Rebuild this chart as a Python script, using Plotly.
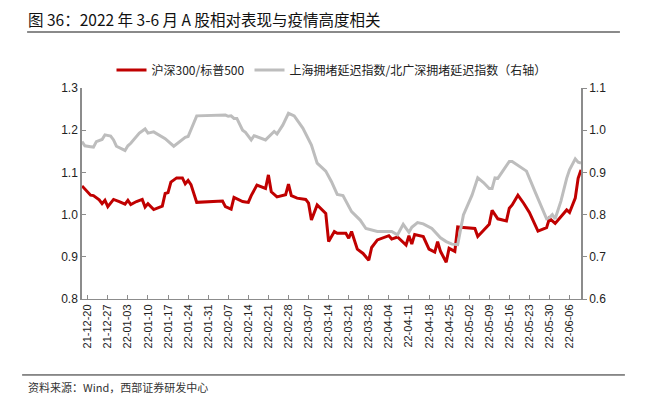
import plotly.graph_objects as go
import pandas as pd

# --- data ---
red_dates = ["2021-12-18","2021-12-20","2021-12-21","2021-12-22","2021-12-24","2021-12-25","2021-12-26","2021-12-27",
             "2021-12-29","2021-12-31","2022-01-02","2022-01-03","2022-01-04","2022-01-06","2022-01-08","2022-01-09",
             "2022-01-10","2022-01-12","2022-01-15","2022-01-16","2022-01-17","2022-01-18","2022-01-20","2022-01-22",
             "2022-01-23","2022-01-24","2022-01-25","2022-01-27","2022-02-05","2022-02-06","2022-02-08","2022-02-09",
             "2022-02-12","2022-02-13","2022-02-14","2022-02-15","2022-02-16","2022-02-17","2022-02-20","2022-02-21",
             "2022-02-22","2022-02-24","2022-02-27","2022-02-28","2022-03-01","2022-03-03","2022-03-06","2022-03-07",
             "2022-03-08","2022-03-10","2022-03-13","2022-03-14","2022-03-16","2022-03-17","2022-03-20","2022-03-21",
             "2022-03-22","2022-03-24","2022-03-26","2022-03-28","2022-03-29","2022-03-31","2022-04-04","2022-04-05",
             "2022-04-07","2022-04-10","2022-04-11","2022-04-12","2022-04-13","2022-04-16","2022-04-18","2022-04-20",
             "2022-04-21","2022-04-22","2022-04-24","2022-04-25","2022-04-27","2022-04-28","2022-04-29","2022-05-04",
             "2022-05-05","2022-05-09","2022-05-10","2022-05-12","2022-05-15","2022-05-16","2022-05-17","2022-05-19",
             "2022-05-21","2022-05-22","2022-05-23","2022-05-26","2022-05-29","2022-05-30","2022-06-01","2022-06-05",
             "2022-06-06","2022-06-08","2022-06-09","2022-06-10"]
red_values = [1.068,1.054,1.046,1.045,1.035,1.026,1.034,1.019,
              1.036,1.031,1.025,1.034,1.024,1.031,1.036,1.018,
              1.026,1.012,1.020,1.050,1.052,1.077,1.087,1.087,
              1.073,1.081,1.071,1.029,1.032,1.019,1.013,1.041,
              1.031,1.030,1.029,1.045,1.056,1.070,1.062,1.094,
              1.054,1.042,1.047,1.072,1.045,1.039,1.036,1.027,
              0.987,1.023,1.003,0.936,0.960,0.956,0.956,0.944,
              0.960,0.918,0.908,0.892,0.922,0.940,0.950,0.942,
              0.947,0.928,0.950,0.930,0.953,0.948,0.918,0.911,
              0.936,0.913,0.887,0.920,0.913,0.971,0.970,0.967,
              0.948,0.977,1.010,0.990,0.985,1.015,1.023,1.046,
              1.027,1.015,1.005,0.961,0.969,0.991,0.979,1.011,
              1.005,1.039,1.086,1.106]

gray_dates = ["2021-12-18","2021-12-19","2021-12-21","2021-12-22","2021-12-23","2021-12-25","2021-12-26","2021-12-28",
              "2021-12-29","2021-12-30","2022-01-02","2022-01-03","2022-01-04","2022-01-06","2022-01-07","2022-01-09",
              "2022-01-10","2022-01-12","2022-01-14","2022-01-16","2022-01-19","2022-01-21","2022-01-23","2022-01-24",
              "2022-01-27","2022-02-06","2022-02-07","2022-02-08","2022-02-09","2022-02-10","2022-02-12","2022-02-13",
              "2022-02-15","2022-02-16","2022-02-20","2022-02-23","2022-02-24","2022-02-26","2022-02-28","2022-03-02",
              "2022-03-05","2022-03-08","2022-03-10","2022-03-13","2022-03-15","2022-03-17","2022-03-19","2022-03-22",
              "2022-03-25","2022-03-27","2022-03-29","2022-03-31","2022-04-05","2022-04-07","2022-04-09","2022-04-11",
              "2022-04-12","2022-04-14","2022-04-16","2022-04-19","2022-04-22","2022-04-24","2022-04-26","2022-04-28",
              "2022-04-30","2022-05-03","2022-05-05","2022-05-07","2022-05-09","2022-05-10","2022-05-11","2022-05-12",
              "2022-05-14","2022-05-16","2022-05-17","2022-05-19","2022-05-22","2022-05-25","2022-05-29","2022-05-30",
              "2022-05-31","2022-06-01","2022-06-03","2022-06-05","2022-06-06","2022-06-08","2022-06-09","2022-06-10"]
gray_values = [0.973,0.963,0.961,0.960,0.973,0.978,0.989,0.986,
               0.977,0.962,0.952,0.963,0.969,0.984,0.993,1.003,
               0.993,0.996,0.987,0.980,0.962,0.973,0.983,0.985,
               1.034,1.036,1.033,1.034,1.028,1.028,1.000,0.995,
               0.977,0.987,0.977,0.997,0.991,1.012,1.040,1.034,
               1.005,0.965,0.922,0.903,0.878,0.848,0.845,0.807,
               0.787,0.767,0.763,0.760,0.760,0.752,0.777,0.758,
               0.770,0.781,0.778,0.767,0.745,0.736,0.730,0.729,
               0.799,0.846,0.887,0.876,0.862,0.862,0.887,0.886,
               0.906,0.926,0.926,0.916,0.903,0.854,0.790,0.793,
               0.800,0.790,0.832,0.886,0.906,0.932,0.924,0.922]

tick_dates = pd.date_range("2021-12-20", "2022-06-06", freq="7D")
tick_labels = [d.strftime("%y-%m-%d") for d in tick_dates]

red_name = "沪深300/标普500"
gray_name = "上海拥堵延迟指数/北广深拥堵延迟指数（右轴）"
title_text = "图 36：2022 年 3-6 月 A 股相对表现与疫情高度相关"
source_text = "资料来源：Wind，西部证券研发中心"

CJK = "Noto Sans CJK SC"

fig = go.Figure()
fig.add_trace(go.Scatter(x=red_dates, y=red_values, name=red_name, mode="lines",
                         line=dict(color="#C00000", width=3), yaxis="y"))
fig.add_trace(go.Scatter(x=gray_dates, y=gray_values, name=gray_name, mode="lines",
                         line=dict(color="#BDBDBD", width=3), yaxis="y2"))

axis_col = "#8C8C8C"
fig.update_layout(
    width=639, height=386,
    margin=dict(l=74, r=66, t=80, b=95, autoexpand=False),
    paper_bgcolor="white", plot_bgcolor="white",
    font=dict(family=CJK, size=12, color="#222222"),
    showlegend=True,
    legend=dict(orientation="h", x=0.5, xanchor="center", y=1.085, yanchor="middle",
                font=dict(family=CJK, size=12, color="#222222"),
                itemwidth=30, tracegroupgap=0, bgcolor="rgba(0,0,0,0)"),
    xaxis=dict(type="date", range=["2021-12-18", "2022-06-10"],
               tickmode="array", tickvals=tick_dates, ticktext=tick_labels,
               tickangle=-90, tickfont=dict(family="Liberation Sans", size=11, color="#222222"),
               showgrid=False, zeroline=False, showline=True, linecolor=axis_col, linewidth=1,
               ticks="inside", ticklen=4, tickcolor=axis_col),
    yaxis=dict(range=[0.8, 1.3], dtick=0.1, tick0=0.8, tickformat=".1f",
               showgrid=False, zeroline=False, showline=True, linecolor=axis_col, linewidth=1.5,
               ticks="inside", ticklen=4, tickcolor=axis_col,
               tickfont=dict(family="Liberation Sans", size=12, color="#222222")),
    yaxis2=dict(range=[0.6, 1.1], dtick=0.1, tick0=0.6, tickformat=".1f", overlaying="y", side="right",
                showgrid=False, zeroline=False, showline=True, linecolor=axis_col, linewidth=1.5,
                ticks="outside", ticklen=4, tickcolor=axis_col,
                tickfont=dict(family="Liberation Sans", size=12, color="#222222")),
)

# title, separator lines and source note
fig.add_annotation(text=title_text, xref="paper", yref="paper", x=-0.112, y=1.325,
                   xanchor="left", yanchor="middle", showarrow=False,
                   font=dict(family=CJK, size=15.5, color="#111111"))
fig.add_shape(type="line", xref="paper", yref="paper", x0=-0.110, x1=1.078, y0=1.265, y1=1.265,
              line=dict(color="#8A8A8A", width=2))
fig.add_shape(type="line", xref="paper", yref="paper", x0=-0.120, x1=1.088, y0=-0.360, y1=-0.360,
              line=dict(color="#222222", width=1))
fig.add_annotation(text=source_text, xref="paper", yref="paper", x=-0.112, y=-0.418,
                   xanchor="left", yanchor="middle", showarrow=False,
                   font=dict(family=CJK, size=11, color="#333333"))

fig.write_html("out.html")
